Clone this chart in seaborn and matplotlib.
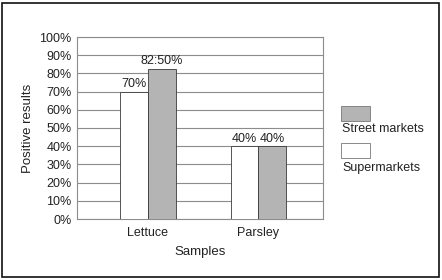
import matplotlib
matplotlib.use("Agg")
import matplotlib.pyplot as plt
from matplotlib.patches import Rectangle
import pandas as pd
import seaborn as sns

# Data
samples = ["Lettuce", "Parsley"]
supermarkets = [70, 40]
street_markets = [82.5, 40]
super_labels = ["70%", "40%"]
street_labels = ["82:50%", "40%"]
y_ticks = list(range(0, 101, 10))

df = pd.DataFrame({
    "Samples": samples * 2,
    "Positive": supermarkets + street_markets,
    "Market": ["Supermarkets"] * 2 + ["Street markets"] * 2,
})

sns.set_style("white")
plt.rcParams["font.family"] = ["Liberation Sans", "DejaVu Sans"]
plt.rcParams["font.size"] = 9

fig = plt.figure(figsize=(4.42, 2.80), dpi=100)
ax = fig.add_axes([77 / 442, 1 - 219 / 280, 246 / 442, 182 / 280])

edge = "#3a3a3a"
grid = "#8c8c8c"
txt = "#222222"
colors = {"Supermarkets": "white", "Street markets": "#b4b4b4"}

sns.barplot(data=df, x="Samples", y="Positive", hue="Market",
            hue_order=["Supermarkets", "Street markets"], palette=colors,
            width=0.5, edgecolor=edge, linewidth=0.6, ax=ax, legend=False,
            zorder=3)

for cont, labs in zip(ax.containers, [super_labels, street_labels]):
    ax.bar_label(cont, labels=labs, padding=1, fontsize=9, color=txt)

ax.set_ylim(0, 100)
ax.set_xlim(-0.645, 1.59)
ax.set_yticks(y_ticks)
ax.set_yticklabels([f"{t}%" for t in y_ticks])
ax.yaxis.grid(True, color=grid, linewidth=0.8, zorder=0)
ax.set_axisbelow(True)
for s in ax.spines.values():
    s.set_color(grid)
    s.set_linewidth(0.8)
ax.tick_params(axis="both", length=0, labelsize=9, colors=txt, pad=4)
ax.tick_params(axis="x", pad=6)
ax.set_xlabel("Samples", fontsize=9.5, color=txt, labelpad=5)
ax.set_ylabel("Positive results", fontsize=9.5, color=txt, labelpad=4)

# legend: swatch above text
def swatch(y_top, color, text, text_y):
    fig.patches.append(Rectangle((341 / 442, 1 - (y_top + 15) / 280), 29 / 442, 15 / 280,
                                 transform=fig.transFigure, facecolor=color,
                                 edgecolor="#777777", linewidth=0.6))
    fig.text(342 / 442, 1 - text_y / 280, text, fontsize=9, color=txt, va="center")

swatch(106, colors["Street markets"], "Street markets", 129)
swatch(143, colors["Supermarkets"], "Supermarkets", 168)

# outer frame
fig.patches.append(Rectangle((2 / 442, 3 / 280), 437 / 442, 274 / 280,
                             transform=fig.transFigure, fill=False,
                             edgecolor="#111111", linewidth=1.2))

fig.savefig("out.png", dpi=100)
